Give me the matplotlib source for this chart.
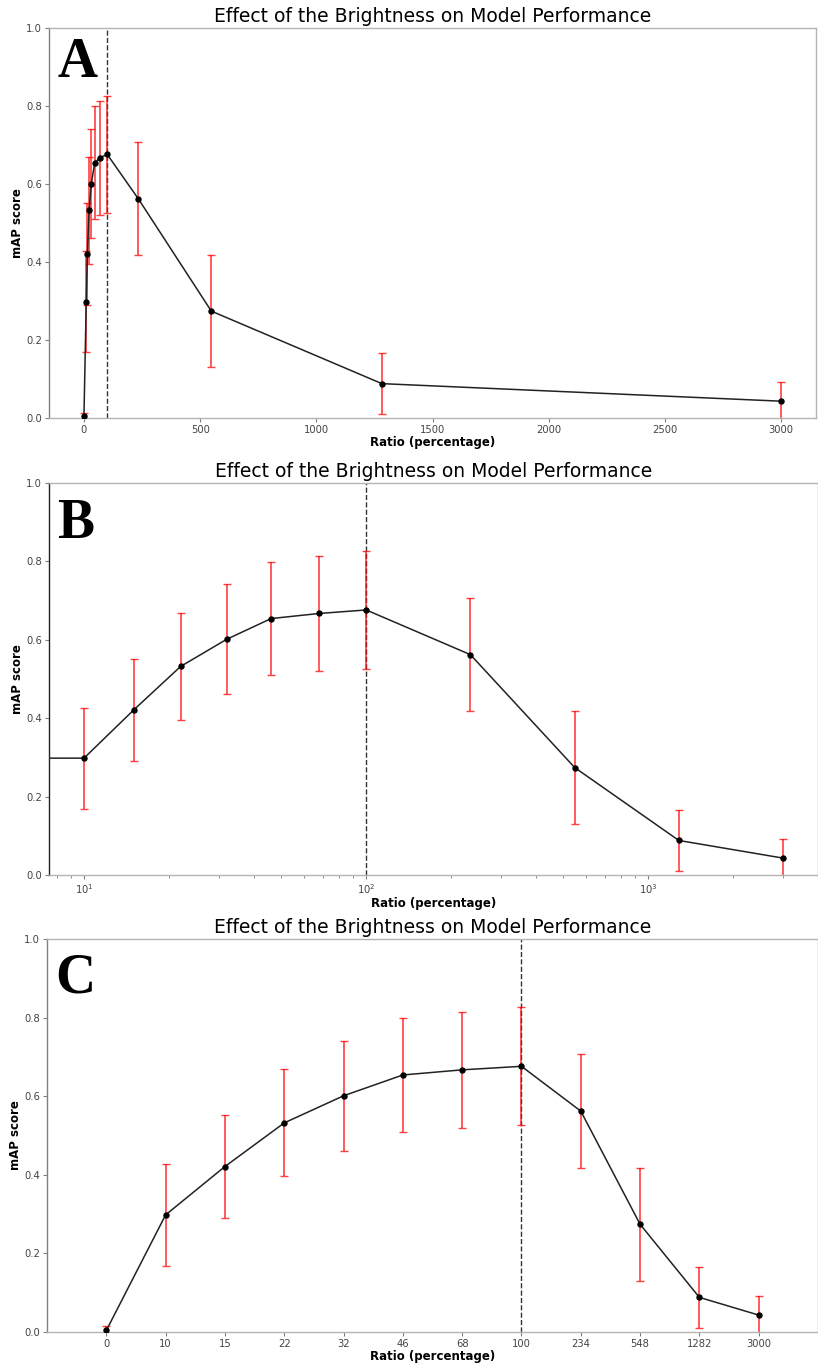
import matplotlib
matplotlib.use("Agg")
import matplotlib.pyplot as plt
import numpy as np

# brightness ratio (%) and mAP score with error
ratios = [0, 10, 15, 22, 32, 46, 68, 100, 234, 548, 1282, 3000]
map_scores = [0.004, 0.298, 0.421, 0.532, 0.601, 0.654, 0.667, 0.676, 0.562, 0.274, 0.088, 0.043]
map_errors = [0.010, 0.129, 0.131, 0.136, 0.140, 0.145, 0.147, 0.150, 0.145, 0.144, 0.078, 0.048]
ref_ratio = 100
panel_letters = ["A", "B", "C"]

title = "Effect of the Brightness on Model Performance"
spine_col = "#b4b4b4"
tick_txt = "#444444"


def style_axes(ax):
    for s in ax.spines.values():
        s.set_color(spine_col)
        s.set_linewidth(1.0)
    ax.spines["left"].set_color("#808080")
    ax.tick_params(axis="both", which="both", colors="#808080", labelcolor=tick_txt,
                   labelsize=7.2, direction="out", length=3, pad=2)
    ax.tick_params(axis="x", which="minor", length=2)
    ax.set_ylim(0, 1.0)
    ax.set_title(title, fontsize=13.5, pad=4)
    ax.set_xlabel("Ratio (percentage)", fontsize=8.5, fontweight="bold", labelpad=1)
    ax.set_ylabel("mAP score", fontsize=8.5, fontweight="bold", labelpad=1.5)


def draw(ax, xs):
    ax.errorbar(xs, map_scores, yerr=map_errors, fmt="none", ecolor="red",
                elinewidth=1.2, capsize=3, capthick=1.0, alpha=0.75, zorder=2)
    ax.plot(xs, map_scores, color="#222222", linewidth=1.1, marker="o",
            markersize=3.6, markerfacecolor="black", markeredgecolor="black", zorder=3)


fig = plt.figure(figsize=(8.18, 13.65), dpi=100)
ax_a = fig.add_axes([0.060, 0.6938, 0.9376, 0.2857])
ax_b = fig.add_axes([0.060, 0.3590, 0.9400, 0.2872])
ax_c = fig.add_axes([0.0575, 0.0242, 0.9425, 0.2879])

# A: linear x axis
draw(ax_a, ratios)
ax_a.axvline(ref_ratio, color="#333333", linestyle="--", linewidth=1.0, zorder=1)
style_axes(ax_a)

# B: log x axis (0 gets clipped, limits from the positive ratios)
ax_b.set_xscale("log")
draw(ax_b, ratios)
ax_b.axvline(ref_ratio, color="#333333", linestyle="--", linewidth=1.0, zorder=1)
pos_r = np.log10([r for r in ratios if r > 0])
span = pos_r.max() - pos_r.min()
ax_b.set_xlim(10 ** (pos_r.min() - 0.05 * span), 10 ** (pos_r.max() + 0.05 * span))
style_axes(ax_b)
ax_b.spines["left"].set_color("#222222")

# C: categorical positions
pos = list(range(len(ratios)))
draw(ax_c, pos)
ax_c.axvline(ratios.index(ref_ratio), color="#333333", linestyle="--", linewidth=1.0, zorder=1)
ax_c.set_xticks(pos)
ax_c.set_xticklabels([str(r) for r in ratios])
ax_c.set_xlim(-1, len(ratios))
style_axes(ax_c)

for ax, letter, yb in zip([ax_a, ax_b, ax_c], panel_letters, [0.874, 0.86, 0.863]):
    ax.text(0.011, yb, letter, transform=ax.transAxes, fontsize=40, fontweight="bold",
            family="Liberation Serif", va="baseline", ha="left", color="black")

fig.savefig("out.png", dpi=100)
